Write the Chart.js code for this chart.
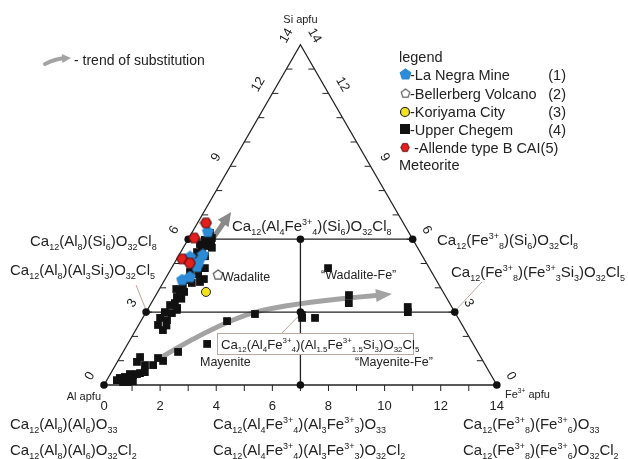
<!DOCTYPE html>
<html>
<head>
<meta charset="utf-8">
<script src="https://cdn.jsdelivr.net/npm/chart.js@4.4.0/dist/chart.umd.js"></script>
<style>
  html, body { margin: 0; padding: 0; background: #fff; }
  canvas { display: block; }
</style>
</head>
<body>
<canvas id="chart" width="628" height="459"></canvas>
<script>
// ternary values in apfu (Al = 14 - Fe - Si)
// Upper Chegem (4)
const chegemFe = [0.42, 0.58, 0.76, 0.83, 1.04, 1.19, 0.62, 0.79, 0.95, 0.36, 0.70, 0.95, 0.71, 0.70, 1.05, 1.34, 1.37, 1.61, 1.96,
  0.97, 0.69, 0.62, 0.91, 0.67, 0.94, 0.71, 0.84, 1.02, 1.05,
  0.79, 0.75, 0.94, 0.75, 0.80, 1.03, 0.74, 0.84, 0.64, 0.78, 0.58, 0.71, 0.52, 0.77, 0.61, 0.85, 0.65, 0.82, 1.30, 1.38, 1.19,
  1.02, 0.95, 1.08, 0.98, 0.60, 1.00,
  2.83, 3.07, 3.92, 5.61, 5.68, 6.14, 5.58, 6.88, 7.04, 9.22, 9.33]
const chegemSi = [0.29, 0.33, 0.33, 0.41, 0.49, 0.53, 0.12, 0.12, 0.16, 0.20, 0.45, 0.45, 1.15, 0.95, 0.82, 0.82, 1.11, 0.99, 1.36,
  2.26, 2.47, 2.76, 2.67, 3.00, 2.96, 3.29, 3.37, 3.17, 3.09,
  3.62, 3.91, 3.83, 4.12, 4.32, 4.20, 4.65, 4.81, 5.06, 5.14, 5.47, 5.56, 5.80, 5.72, 5.97, 5.93, 6.26, 6.05, 4.24, 4.36, 4.81,
  5.65, 5.30, 4.55, 3.55, 3.95, 2.45,
  1.69, 2.63, 2.92, 2.88, 2.76, 2.76, 4.81, 3.70, 3.37, 3.21, 3.00]

// La Negra Mine (1)
const laNegraFe = [0.55, 0.85, 0.88, 0.43, 0.84, 0.62, 0.85]
const laNegraSi = [6.30, 5.35, 4.86, 5.27, 4.44, 4.32, 5.06]

// Bellerberg Volcano (2)
const bellerbergFe = [1.80]
const bellerbergSi = [4.53]

// Koriyama City (3)
const koriyamaFe = [1.72]
const koriyamaSi = [3.83]

// Allende type B CAI (5)
const allendeFe = [0.30, 0.19, 0.19, 0.55]
const allendeSi = [6.67, 6.05, 5.19, 5.02]

// end members / frame
const nodeFe = [0, 7, 14, 0, 5.5, 11, 0, 4, 8]
const nodeSi = [0, 0, 0, 3, 3, 3, 6, 6, 6]

// substitution trends
const trendLowFe = [1.44, 3.0, 5.34, 8.39]
const trendLowSi = [1.11, 2.76, 3.42, 3.74]
const trendUpFe = [0.86, 0.97]
const trendUpSi = [5.97, 7.12]

const bottomTicks = [0, 2, 4, 6, 8, 10, 12, 14]
const sideTicks = [0, 3, 6, 9, 12, 14]

const FONT = '"Liberation Sans", Arial, sans-serif'
const H = Math.sqrt(3) / 2
const PX = 28.06

function tern(fe, si) {
  return { x: fe + si / 2, y: si * H }
}
function pts(fe, si) {
  return fe.map((f, i) => tern(f, si[i]))
}

// marker images (pentagon / hexagon)
function polyImage(n, size, fill, stroke, rot) {
  const c = document.createElement('canvas')
  c.width = size + 2
  c.height = size + 2
  const g = c.getContext('2d')
  const r = size / 2
  g.beginPath()
  for (let i = 0; i < n; i++) {
    const a = rot + i * 2 * Math.PI / n
    const x = size / 2 + 1 + r * Math.cos(a)
    const y = size / 2 + 1 + r * Math.sin(a)
    i ? g.lineTo(x, y) : g.moveTo(x, y)
  }
  g.closePath()
  g.fillStyle = fill
  g.fill()
  g.lineWidth = 1.2
  g.strokeStyle = stroke
  g.stroke()
  return c
}
const bluePenta = polyImage(5, 11, '#2e8bd6', '#2e8bd6', -Math.PI / 2)
const whitePenta = polyImage(5, 10, '#ffffff', '#555555', -Math.PI / 2)
const redHexa = polyImage(6, 11, '#e3201b', '#5a1010', 0)

function drawFormula(ctx, str, x, y, size, color) {
  const sub = size * 0.6
  let cx = x
  let i = 0
  ctx.fillStyle = color || '#222'
  ctx.textAlign = 'left'
  ctx.textBaseline = 'alphabetic'
  while (i < str.length) {
    const c = str[i]
    if ((c === '_' || c === '^') && str[i + 1] === '{') {
      const end = str.indexOf('}', i)
      const t = str.slice(i + 2, end)
      ctx.font = sub + 'px ' + FONT
      ctx.fillText(t, cx, y + (c === '_' ? size * 0.25 : -size * 0.42))
      cx += ctx.measureText(t).width
      i = end + 1
    } else {
      let j = i
      while (j < str.length && !((str[j] === '_' || str[j] === '^') && str[j + 1] === '{')) j++
      const t = str.slice(i, j)
      ctx.font = size + 'px ' + FONT
      ctx.fillText(t, cx, y)
      cx += ctx.measureText(t).width
      i = j
    }
  }
  return cx
}

function drawArrow(ctx, p, width, headLen, headW, color) {
  const n = p.length
  const tip = p[n - 1]
  const prev = p[n - 2]
  const dx = tip.x - prev.x, dy = tip.y - prev.y
  const len = Math.hypot(dx, dy)
  const ux = dx / len, uy = dy / len
  const base = { x: tip.x - ux * headLen, y: tip.y - uy * headLen }
  ctx.save()
  ctx.strokeStyle = color
  ctx.fillStyle = color
  ctx.lineWidth = width
  ctx.lineCap = 'round'
  ctx.beginPath()
  ctx.moveTo(p[0].x, p[0].y)
  if (n === 2) {
    ctx.lineTo(base.x, base.y)
  } else {
    for (let i = 1; i < n - 1; i++) {
      const next = i === n - 2 ? base : p[i + 1]
      const mx = (p[i].x + next.x) / 2, my = (p[i].y + next.y) / 2
      ctx.quadraticCurveTo(p[i].x, p[i].y, i === n - 2 ? base.x : mx, i === n - 2 ? base.y : my)
    }
  }
  ctx.stroke()
  ctx.beginPath()
  ctx.moveTo(tip.x, tip.y)
  ctx.lineTo(base.x - uy * headW / 2, base.y + ux * headW / 2)
  ctx.lineTo(base.x + uy * headW / 2, base.y - ux * headW / 2)
  ctx.closePath()
  ctx.fill()
  ctx.restore()
}

const ternaryPlugin = {
  id: 'ternary',
  beforeDatasetsDraw(chart) {
    const ctx = chart.ctx
    const xs = chart.scales.x, ys = chart.scales.y
    const toPx = (fe, si) => {
      const t = tern(fe, si)
      return { x: xs.getPixelForValue(t.x), y: ys.getPixelForValue(t.y) }
    }
    ctx.save()
    // ticks
    ctx.strokeStyle = '#222'
    ctx.lineWidth = 1
    for (let v = 1; v < 14; v++) {
      const b = toPx(v, 0)
      ctx.beginPath(); ctx.moveTo(b.x, b.y); ctx.lineTo(b.x, b.y + 6); ctx.stroke()
      const l = toPx(0, v)
      ctx.beginPath(); ctx.moveTo(l.x, l.y); ctx.lineTo(l.x + 6, l.y); ctx.stroke()
      const r = toPx(14 - v, v)
      ctx.beginPath(); ctx.moveTo(r.x, r.y); ctx.lineTo(r.x - 6, r.y); ctx.stroke()
    }
    // leader lines
    ctx.strokeStyle = '#b89a90'
    ctx.lineWidth = 0.9
    const seg = (a, b) => { ctx.beginPath(); ctx.moveTo(a.x, a.y); ctx.lineTo(b.x, b.y); ctx.stroke() }
    const l3 = toPx(0, 3), r3 = toPx(11, 3), m3 = toPx(5.5, 3)
    seg({ x: 136, y: 285 }, { x: l3.x, y: l3.y - 2 })
    seg({ x: 482, y: 282 }, { x: r3.x + 2, y: r3.y - 3 })
    seg({ x: 282, y: 333 }, { x: m3.x, y: m3.y + 2 })
    // trend arrows
    drawArrow(ctx, pts(trendLowFe, trendLowSi).map(t => ({ x: xs.getPixelForValue(t.x), y: ys.getPixelForValue(t.y) })), 5, 16, 13, '#a3a3a3')
    drawArrow(ctx, pts(trendUpFe, trendUpSi).map(t => ({ x: xs.getPixelForValue(t.x), y: ys.getPixelForValue(t.y) })), 5, 14, 13, '#8a8a8a')
    ctx.restore()
  },
  afterDatasetsDraw(chart) {
    const ctx = chart.ctx
    const xs = chart.scales.x, ys = chart.scales.y
    const toPx = (fe, si) => {
      const t = tern(fe, si)
      return { x: xs.getPixelForValue(t.x), y: ys.getPixelForValue(t.y) }
    }
    ctx.save()
    // axis tick labels
    ctx.fillStyle = '#222'
    ctx.font = '13px ' + FONT
    ctx.textAlign = 'center'
    ctx.textBaseline = 'middle'
    bottomTicks.forEach(v => {
      const p = toPx(v, 0)
      ctx.fillText(String(v), p.x, p.y + 21)
    })
    sideTicks.forEach(v => {
      const l = toPx(0, v)
      ctx.save()
      ctx.translate(l.x - 14, l.y - 9)
      ctx.rotate(-Math.PI / 3)
      ctx.fillText(String(v), 0, 0)
      ctx.restore()
      const r = toPx(14 - v, v)
      ctx.save()
      ctx.translate(r.x + 14, r.y - 9)
      ctx.rotate(Math.PI / 3)
      ctx.fillText(String(v), 0, 0)
      ctx.restore()
    })
    // corner titles
    ctx.font = '11px ' + FONT
    const top = toPx(0, 14)
    ctx.textAlign = 'center'
    ctx.fillText('Si apfu', top.x, 20)
    ctx.textAlign = 'right'
    ctx.fillText('Al apfu', 101, 397)
    drawFormula(ctx, 'Fe^{3+} apfu', 505, 398, 11)

    // formulas
    drawFormula(ctx, 'Ca_{12}(Al_{8})(Si_{6})O_{32}Cl_{8}', 30, 246, 15)
    drawFormula(ctx, 'Ca_{12}(Al_{8})(Al_{3}Si_{3})O_{32}Cl_{5}', 10, 275, 15)
    drawFormula(ctx, 'Ca_{12}(Al_{4}Fe^{3+}_{4})(Si_{6})O_{32}Cl_{8}', 232, 231, 15)
    drawFormula(ctx, 'Ca_{12}(Fe^{3+}_{8})(Si_{6})O_{32}Cl_{8}', 437, 245, 15)
    drawFormula(ctx, 'Ca_{12}(Fe^{3+}_{8})(Fe^{3+}_{3}Si_{3})O_{32}Cl_{5}', 451, 277, 15)
    drawFormula(ctx, 'Ca_{12}(Al_{8})(Al_{6})O_{33}', 10, 429, 15)
    drawFormula(ctx, 'Ca_{12}(Al_{4}Fe^{3+}_{4})(Al_{3}Fe^{3+}_{3})O_{33}', 213, 429, 15)
    drawFormula(ctx, 'Ca_{12}(Fe^{3+}_{8})(Fe^{3+}_{6})O_{33}', 463, 429, 15)
    drawFormula(ctx, 'Ca_{12}(Al_{8})(Al_{6})O_{32}Cl_{2}', 10, 455, 15)
    drawFormula(ctx, 'Ca_{12}(Al_{4}Fe^{3+}_{4})(Al_{3}Fe^{3+}_{3})O_{32}Cl_{2}', 213, 455, 15)
    drawFormula(ctx, 'Ca_{12}(Fe^{3+}_{8})(Fe^{3+}_{6})O_{32}Cl_{2}', 463, 455, 15)

    // boxed formula
    ctx.fillStyle = '#fff'
    ctx.fillRect(217, 333, 196, 21)
    ctx.strokeStyle = '#b8a8a0'
    ctx.lineWidth = 1
    ctx.strokeRect(217.5, 333.5, 196, 21)
    drawFormula(ctx, 'Ca_{12}(Al_{4}Fe^{3+}_{4})(Al_{1.5}Fe^{3+}_{1.5}Si_{3})O_{32}Cl_{5}', 221, 349, 13.2)

    // names
    ctx.fillStyle = '#222'
    ctx.font = '12.5px ' + FONT
    ctx.textAlign = 'left'
    ctx.textBaseline = 'alphabetic'
    ctx.fillText('Wadalite', 222, 281)
    ctx.fillText('\u201cWadalite-Fe\u201d', 321, 279)
    ctx.fillText('Mayenite', 200, 366)
    ctx.fillText('\u201cMayenite-Fe\u201d', 355, 366)

    // legend
    ctx.font = '14.5px ' + FONT
    ctx.fillText('legend', 399, 62)
    const rows = [
      ['-La Negra Mine', '(1)', 80],
      ['-Bellerberg Volcano', '(2)', 99],
      ['-Koriyama City', '(3)', 117],
      ['-Upper Chegem', '(4)', 135],
      [' -Allende type B CAI(5)', '', 153]
    ]
    rows.forEach(r => {
      ctx.textAlign = 'left'
      ctx.fillText(r[0], 410, r[2])
      ctx.textAlign = 'right'
      if (r[1]) ctx.fillText(r[1], 566, r[2])
    })
    ctx.textAlign = 'left'
    ctx.fillText('Meteorite', 399, 170)
    ctx.drawImage(bluePenta, 399, 68, 13, 13)
    ctx.drawImage(whitePenta, 400, 88, 11, 11)
    ctx.beginPath()
    ctx.arc(405, 112, 4.5, 0, Math.PI * 2)
    ctx.fillStyle = '#f2e21c'
    ctx.fill()
    ctx.strokeStyle = '#222'
    ctx.lineWidth = 1.2
    ctx.stroke()
    ctx.fillStyle = '#111'
    ctx.fillRect(400, 124, 10, 10)
    ctx.drawImage(redHexa, 400, 142, 10, 11)

    // trend legend
    ctx.fillStyle = '#222'
    ctx.font = '14px ' + FONT
    ctx.fillText('- trend of substitution', 74, 65)
    drawArrow(ctx, [{ x: 45, y: 64 }, { x: 56, y: 59 }, { x: 71, y: 58 }], 4, 9, 9, '#a3a3a3')
    ctx.restore()
  }
}

const xMin = -104 / PX
const xMax = (628 - 104) / PX
const yMin = -(459 - 385) / PX
const yMax = 385 / PX

new Chart(document.getElementById('chart').getContext('2d'), {
  type: 'scatter',
  data: {
    datasets: [
      {
        label: 'Allende type B CAI',
        data: pts(allendeFe, allendeSi),
        pointStyle: redHexa,
        order: 1
      },
      {
        label: 'La Negra Mine',
        data: pts(laNegraFe, laNegraSi),
        pointStyle: bluePenta,
        order: 2
      },
      {
        label: 'Bellerberg Volcano',
        data: pts(bellerbergFe, bellerbergSi),
        pointStyle: whitePenta,
        order: 2
      },
      {
        label: 'Koriyama City',
        data: pts(koriyamaFe, koriyamaSi),
        pointStyle: 'circle',
        pointRadius: 4.5,
        backgroundColor: '#f2e21c',
        borderColor: '#222',
        borderWidth: 1,
        order: 2
      },
      {
        label: 'Upper Chegem',
        data: pts(chegemFe, chegemSi),
        pointStyle: 'rect',
        pointRadius: 5.5,
        backgroundColor: '#111',
        borderColor: '#111',
        borderWidth: 0,
        order: 3
      },
      {
        label: 'nodes',
        data: pts(nodeFe, nodeSi),
        pointStyle: 'circle',
        pointRadius: 3.8,
        backgroundColor: '#111',
        borderWidth: 0,
        order: 4
      },
      {
        label: 'frame',
        type: 'line',
        data: pts([0, 14, 0, 0], [0, 0, 14, 0]),
        borderColor: '#222',
        borderWidth: 1.3,
        pointRadius: 0,
        fill: false,
        order: 5
      },
      {
        label: 'si3',
        type: 'line',
        data: pts([0, 11], [3, 3]),
        borderColor: '#222',
        borderWidth: 1.3,
        pointRadius: 0,
        order: 5
      },
      {
        label: 'si6',
        type: 'line',
        data: pts([0, 8], [6, 6]),
        borderColor: '#222',
        borderWidth: 1.3,
        pointRadius: 0,
        order: 5
      },
      {
        label: 'half',
        type: 'line',
        data: pts([7, 4], [0, 6]),
        borderColor: '#222',
        borderWidth: 1.3,
        pointRadius: 0,
        order: 5
      }
    ]
  },
  options: {
    responsive: false,
    animation: false,
    layout: { padding: 0, autoPadding: false },
    plugins: {
      legend: { display: false },
      tooltip: { enabled: false }
    },
    scales: {
      x: { type: 'linear', min: xMin, max: xMax, display: false },
      y: { type: 'linear', min: yMin, max: yMax, display: false }
    }
  },
  plugins: [ternaryPlugin]
})
</script>
</body>
</html>
